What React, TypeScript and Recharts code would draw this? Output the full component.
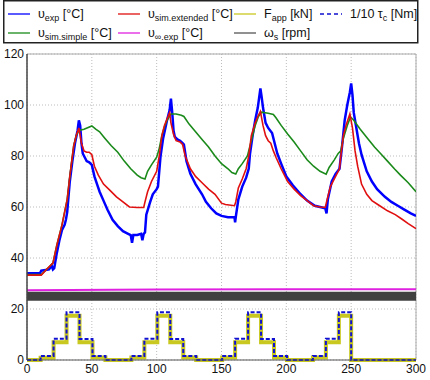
import { CartesianGrid, ComposedChart, Line, ReferenceLine, XAxis, YAxis } from 'recharts';

// measured temperature (time s, °C)
const tempExp: [number, number][] = [
  [0, 34], [10, 34], [11, 35], [17, 35.5], [19, 37], [20, 35.5], [21, 36], [23, 42], [25, 47], [27, 51], [29, 53],
  [30, 55], [31, 58], [33, 70], [35, 78], [37, 85], [39, 90], [40, 94], [41, 92], [42, 85], [43, 81], [45, 79],
  [46, 78], [48, 77.5], [50, 76.5], [52, 72], [54, 69], [56, 66], [59, 62.5], [62, 59], [66, 55], [70, 52.5],
  [74, 50.5], [78, 49.5], [80, 49], [81, 46], [82, 49], [85, 49], [88, 49.5], [89, 47], [90, 49.5], [91, 50],
  [92, 57], [95, 62], [97, 65], [100, 67], [101, 68], [103, 80], [105, 87], [108, 94], [110, 98], [111, 102.5],
  [112, 97], [113, 90], [114, 87.5], [116, 86.5], [118, 86], [120, 85], [121, 84.5], [123, 78], [126, 73],
  [130, 69], [135, 65], [138, 62], [142, 59.5], [146, 57.5], [150, 56.5], [155, 56], [160, 56], [160.5, 54],
  [161, 56], [163, 63], [166, 68], [169, 71.5], [171, 75], [172, 81], [174, 88], [176, 94], [178, 99], [180, 106.5],
  [181, 103], [182, 99], [184, 93], [186, 91], [189, 89], [191, 85], [193, 81], [196, 77], [200, 72], [205, 68.5],
  [211, 65], [216, 62.5], [222, 60.5], [226, 60], [230, 59.5], [231, 57.5], [232, 63], [235, 70], [238, 73],
  [241, 75], [243, 84], [245, 94], [247, 100], [249, 105], [250, 108.5], [251, 104], [252, 97], [254, 91],
  [256, 85], [258, 80.5], [262, 74], [266, 70], [270, 67], [276, 64], [281, 62], [286, 60.5], [291, 59],
  [296, 57.5], [300, 56.5],
];

// simple model
const tempSimple: [number, number][] = [
  [0, 33.5], [11, 33.5], [15, 35.5], [20, 38], [23, 45], [27, 53], [31, 63], [33, 72], [36, 84], [38, 88],
  [40, 90], [44, 90.5], [50, 91.8], [53, 90.5], [56, 89.5], [60, 87], [65, 84], [70, 81.5], [75, 78], [80, 75],
  [85, 72.5], [88, 71.5], [91, 71], [93, 74], [96, 76.5], [100, 79.5], [102, 83], [104, 88], [106, 91.5],
  [108, 94], [111, 96.5], [115, 96.5], [119, 96], [121, 95.5], [125, 92.5], [130, 89.5], [135, 86.5],
  [140, 83.5], [145, 80], [150, 77], [155, 75], [158, 73.5], [161, 72.9], [163, 75], [166, 77], [170, 80],
  [172, 84], [174, 88], [176, 92], [178.5, 95.5], [181, 97.2], [186, 96.8], [190, 96.3], [192, 95], [196, 92],
  [201, 88.6], [206, 85.5], [211, 82], [216, 78.5], [221, 76], [226, 74], [230.7, 72.9], [233, 75.5],
  [237, 78.5], [240, 81], [242, 82], [244, 87], [247, 92], [249.5, 95.3], [252, 94], [257, 90.5], [263, 86.7],
  [268, 83.5], [273, 80.8], [278, 78], [283.5, 74.9], [288, 72.5], [294, 69.5], [300, 66],
];

// extended model
const tempExtended: [number, number][] = [
  [0, 33.3], [11, 33.3], [15, 35.5], [20, 38], [23, 45], [27, 53], [31, 63], [33, 72], [36, 84], [38, 88],
  [40, 91], [42, 85], [44, 82], [46, 81.5], [48, 81.5], [50, 80.5], [52, 76], [55, 72.5], [59, 69], [64, 66.5],
  [69, 64], [74, 62], [79, 60], [85, 59.8], [90, 59.8], [91, 62], [93, 66], [96, 70], [100, 74], [102, 80],
  [104, 88], [106, 92], [108, 94.5], [110, 97], [111, 93], [113, 88.5], [115, 86], [118, 85.5], [120, 84.5],
  [122, 80], [126, 75], [130, 72], [135, 69.5], [140, 67], [145, 65], [150, 61.5], [153, 61], [160, 60.5],
  [161, 62], [163, 67.5], [166, 71], [169, 75], [171, 80], [173, 88], [176, 93], [178, 95.5], [180, 97.5],
  [182, 92], [184, 88], [186, 86], [188, 85], [190, 82], [192, 79.5], [196, 75], [201, 70], [206, 67],
  [211, 64.5], [216, 62.5], [221, 60.5], [226, 60], [230, 59.8], [232, 64], [234, 68], [237, 71], [241, 75],
  [242, 80], [244, 88], [246, 92], [249, 96.5], [251, 91], [253, 82], [255, 76], [258, 69], [262, 65],
  [266, 62.5], [272, 60.5], [278, 58.5], [284, 57], [289, 55.3], [294, 53.5], [300, 51.5],
];

const tempAmbient: [number, number][] = [[0, 27.4], [100, 27.6], [200, 27.7], [300, 27.7]];
const speed: [number, number][] = [[0, 25], [300, 25]];

const stepTimes = [0, 10.5, 20.5, 30.5, 40.5, 50.5, 60.5, 80.5, 90.5, 100.5, 110.5, 120.5, 130.5,
  150.5, 160.5, 170.5, 180.5, 190.5, 200.5, 220.5, 230.5, 240.5, 250, 300];
const forceApp = [0, 0.9, 7, 17.4, 7, 1, 0, 1, 7, 17.4, 7, 1, 0, 1, 7, 17.4, 7, 1, 0, 1, 7, 17.4, 0, 0];
const torqueTenth = [0, 1.6, 8.3, 18.7, 8.2, 1.6, 0, 1.6, 8.3, 18.7, 8.2, 1.6, 0, 1.6, 8.3, 18.7, 8.2, 1.6, 0, 1.6, 8.3, 18.7, 0, 0];

const xTicks = [0, 50, 100, 150, 200, 250, 300];
const yTicks = [0, 20, 40, 60, 80, 100, 120];

const pts = (arr: [number, number][]) => arr.map(([t, v]) => ({ t, v }));
const stepPts = (vals: number[]) => stepTimes.map((t, i) => ({ t, v: vals[i] }));

const font = 'Liberation Sans, Arial, sans-serif';
const tick = { fontSize: 12, fill: '#111', fontFamily: font };

// legend: [x, row, color, dashed, main, sub, unit]
const legendItems: [number, number, string, boolean, string, string, string][] = [
  [8, 0, '#0000ff', false, 'υ', 'exp', ' [°C]'],
  [8, 1, '#1a8a1a', false, 'υ', 'sim.simple', ' [°C]'],
  [118, 0, '#e01010', false, 'υ', 'sim.extended', ' [°C]'],
  [118, 1, '#e020e0', false, 'υ', '∞.exp', ' [°C]'],
  [234, 0, '#c8c820', false, 'F', 'app', ' [kN]'],
  [234, 1, '#555555', false, 'ω', 's', ' [rpm]'],
  [320, 0, '#1010d0', true, '1/10 τ', 'c', ' [Nm]'],
];

function LegendBox() {
  return (
    <svg width={430} height={46} style={{ position: 'absolute', left: 0, top: 0 }}>
      <rect x={3.75} y={0.75} width={414} height={42} fill="#fff" stroke="#222" strokeWidth={1.5} />
      {legendItems.map(([x, row, color, dashed, main, sub, unit]) => {
        const y = row === 0 ? 14 : 33;
        return (
          <g key={x + '-' + row}>
            <line x1={x} x2={x + 22} y1={y} y2={y} stroke={color} strokeWidth={1.3} strokeDasharray={dashed ? '4 3' : undefined} />
            <text x={x + 30} y={y + 4} fontSize={12.5} fontFamily={font} fill="#111">
              <tspan>{main}</tspan>
              <tspan fontSize={9} dy={3}>{sub}</tspan>
              <tspan dy={-3}>{unit}</tspan>
            </text>
          </g>
        );
      })}
    </svg>
  );
}

export default function App() {
  return (
    <div style={{ position: 'relative', width: 430, height: 380, background: '#fff' }}>
      <style>{`body{margin:0}`}</style>
      <div style={{ position: 'absolute', left: 0, top: 0 }}>
        <ComposedChart width={430} height={380} margin={{ top: 54, right: 14, bottom: 0, left: 0 }}>
          <CartesianGrid stroke="#bdbdbd" strokeDasharray="1 2" />
          <XAxis dataKey="t" type="number" domain={[0, 300]} ticks={xTicks} tick={tick} tickLine={false}
            tickSize={0} tickMargin={4} height={20} stroke="#555" allowDataOverflow />
          <YAxis type="number" domain={[0, 120]} ticks={yTicks} tick={tick} tickLine={false}
            tickSize={0} tickMargin={3} width={27} stroke="#444" strokeWidth={1.5} />
          <ReferenceLine y={120} stroke="#aaa" />
          <ReferenceLine x={300} stroke="#aaa" />
          <Line data={pts(tempExp)} dataKey="v" type="linear" stroke="#0000ff" strokeWidth={2.5} dot={false} isAnimationActive={false} />
          <Line data={pts(tempSimple)} dataKey="v" type="linear" stroke="#1a8a1a" strokeWidth={1.6} dot={false} isAnimationActive={false} />
          <Line data={pts(tempExtended)} dataKey="v" type="linear" stroke="#e01010" strokeWidth={1.6} dot={false} isAnimationActive={false} />
          <Line data={pts(tempAmbient)} dataKey="v" type="linear" stroke="#e020e0" strokeWidth={2} dot={false} isAnimationActive={false} />
          <Line data={stepPts(forceApp)} dataKey="v" type="stepAfter" stroke="#c8c820" strokeWidth={4} dot={false} isAnimationActive={false} />
          <Line data={pts(speed)} dataKey="v" type="linear" stroke="#404040" strokeWidth={9} dot={false} isAnimationActive={false} />
          <Line data={stepPts(torqueTenth)} dataKey="v" type="stepAfter" stroke="#1010d0" strokeWidth={2} strokeDasharray="4 2" dot={false} isAnimationActive={false} />
        </ComposedChart>
      </div>
      <LegendBox />
    </div>
  );
}
